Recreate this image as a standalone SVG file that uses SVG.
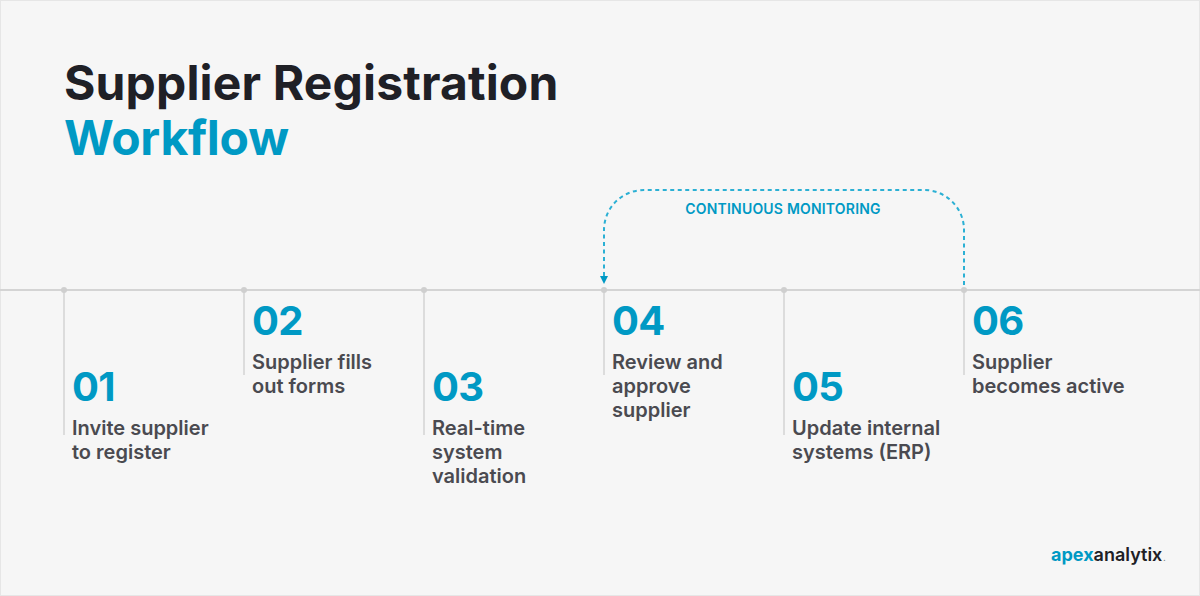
<svg xmlns="http://www.w3.org/2000/svg" width="1200" height="596" viewBox="0 0 1200 596">
<style>
text{font-family:Inter,"Liberation Sans",sans-serif}
.t{font-size:48px;font-weight:700;fill:#1f2026}
.n{font-size:40px;font-weight:700;fill:#0099c4;letter-spacing:-0.8px}
.l{font-size:20px;font-weight:600;fill:#4a4a50}
.s{stroke:#dcdcdc;stroke-width:2;fill:none}
.d{fill:#cfcfcf}
</style>
<rect x="0.5" y="0.5" width="1199" height="595" fill="#f6f6f6" stroke="#e6e6e6"/>
<g id="title"><text class="t" x="64" y="100" letter-spacing="0.15">Supplier Registration</text><text class="t" x="64" y="155" letter-spacing="-0.25" style="fill:#0099c4">Workflow</text></g>
<g id="connectors">
<line x1="0" y1="290" x2="1200" y2="290" stroke="#d4d4d4" stroke-width="2"/>
<path d="M964 285V230A40 40 0 0 0 924 190H644A40 40 0 0 0 604 230V276" fill="none" stroke="#2bb0d4" stroke-width="2" stroke-dasharray="4 3.5"/>
<path d="M600 276H608L604 284Z" fill="#0099c4"/>
</g>
<g id="n1"><line class="s" x1="64" y1="290" x2="64" y2="435"/><circle class="d" cx="64" cy="290" r="3"/><text class="n" x="72" y="401">01</text><text class="l" x="72" y="435">Invite supplier</text><text class="l" x="72" y="459">to register</text></g>
<g id="n2"><line class="s" x1="244" y1="290" x2="244" y2="375"/><circle class="d" cx="244" cy="290" r="3"/><text class="n" x="252" y="335">02</text><text class="l" x="252" y="369">Supplier fills</text><text class="l" x="252" y="393">out forms</text></g>
<g id="n3"><line class="s" x1="424" y1="290" x2="424" y2="435"/><circle class="d" cx="424" cy="290" r="3"/><text class="n" x="432" y="401">03</text><text class="l" x="432" y="435">Real-time</text><text class="l" x="432" y="459">system</text><text class="l" x="432" y="483">validation</text></g>
<g id="n4"><line class="s" x1="604" y1="290" x2="604" y2="375"/><circle class="d" cx="604" cy="290" r="3"/><text class="n" x="612" y="335">04</text><text class="l" x="612" y="369">Review and</text><text class="l" x="612" y="393">approve</text><text class="l" x="612" y="417">supplier</text></g>
<g id="n5"><line class="s" x1="784" y1="290" x2="784" y2="435"/><circle class="d" cx="784" cy="290" r="3"/><text class="n" x="792" y="401">05</text><text class="l" x="792" y="435">Update internal</text><text class="l" x="792" y="459">systems (ERP)</text></g>
<g id="n6"><line class="s" x1="964" y1="290" x2="964" y2="375"/><circle class="d" cx="964" cy="290" r="3"/><text class="n" x="972" y="335">06</text><text class="l" x="972" y="369">Supplier</text><text class="l" x="972" y="393">becomes active</text></g>
<text id="monitor" x="783" y="214" text-anchor="middle" font-size="14" font-weight="600" letter-spacing="0.2" fill="#0099c4">CONTINUOUS MONITORING</text>
<g id="logo"><text x="1051" y="561" font-size="18" font-weight="700" fill="#0099c4">apex<tspan fill="#202025" font-weight="600">analytix</tspan><tspan fill="#888" font-size="7" dx="1">.</tspan></text></g>
</svg>
